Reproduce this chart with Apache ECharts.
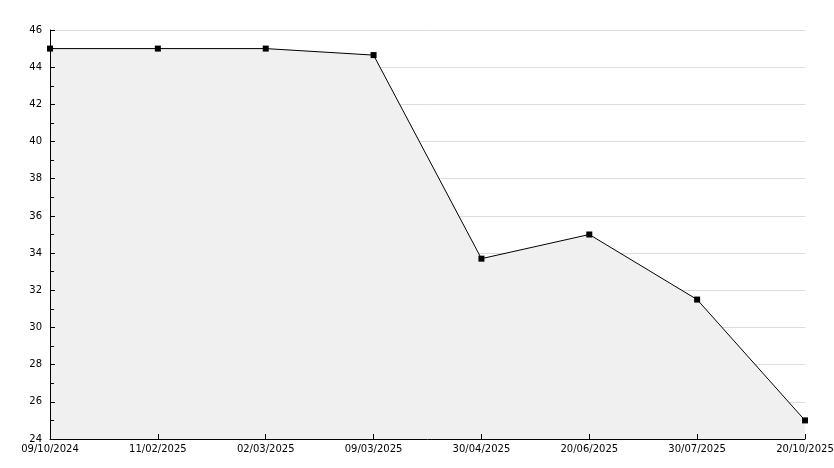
<!DOCTYPE html>
<html>
<head>
<meta charset="utf-8">
<script src="https://cdn.jsdelivr.net/npm/echarts@6/dist/echarts.min.js"></script>
<style>html,body{margin:0;padding:0;background:#fff}#c{width:834px;height:468px}</style>
</head>
<body>
<div id="c"></div>
<script>
const categories = ["09/10/2024","11/02/2025","02/03/2025","09/03/2025","30/04/2025","20/06/2025","30/07/2025","20/10/2025"];
const values = [45, 45, 45, 44.65, 33.7, 35, 31.5, 25];
const yMin = 24, yMax = 46, yStep = 2;

const font = {color: '#000', fontFamily: 'DejaVu Sans', fontSize: 10};
const chart = echarts.init(document.getElementById('c'), null, {renderer: 'canvas'});
chart.setOption({
  animation: false,
  backgroundColor: '#fff',
  grid: {left: 50, right: 29, top: 30, bottom: 29, containLabel: false, outerBoundsMode: 'none'},
  xAxis: [{
    type: 'category',
    data: categories,
    boundaryGap: false,
    axisLine: {show: false},
    axisTick: {show: false},
    axisLabel: {show: false},
    splitLine: {show: false},
    z: 0
  }, {
    type: 'category',
    data: categories,
    position: 'bottom',
    boundaryGap: false,
    axisLine: {show: true, lineStyle: {color: '#000', width: 1}},
    axisTick: {show: true, inside: true, length: 5, alignWithLabel: true, lineStyle: {color: '#000'}},
    axisLabel: Object.assign({margin: 5, interval: 0}, font),
    splitLine: {show: false},
    z: 10
  }],
  yAxis: [{
    type: 'value',
    min: yMin, max: yMax, interval: yStep,
    axisLine: {show: false},
    axisTick: {show: false},
    axisLabel: {show: false},
    splitLine: {show: true, lineStyle: {color: '#dddddd', width: 1}},
    z: 0
  }, {
    type: 'value',
    position: 'left',
    min: yMin, max: yMax, interval: yStep,
    axisLine: {show: true, lineStyle: {color: '#000', width: 1}},
    axisTick: {show: true, inside: true, length: 5, lineStyle: {color: '#000'}},
    minorTick: {show: true, splitNumber: 2, length: 4, lineStyle: {color: '#000'}},
    axisLabel: Object.assign({margin: 8}, font),
    splitLine: {show: false},
    z: 10
  }],
  series: [{
    type: 'line',
    xAxisIndex: 0,
    yAxisIndex: 0,
    data: values,
    symbol: 'rect',
    symbolSize: 6,
    itemStyle: {color: '#000'},
    lineStyle: {color: '#000', width: 1},
    areaStyle: {color: '#f0f0f0', opacity: 1, origin: 'start'},
    z: 2
  }]
});
</script>
</body>
</html>
